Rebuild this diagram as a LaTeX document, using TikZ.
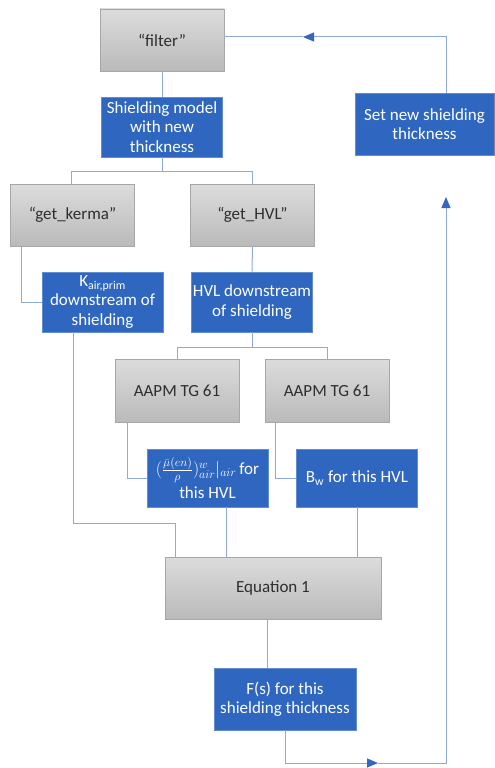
\documentclass[tikz,border=0pt]{standalone}
\usepackage{fontspec}
\setmainfont{Carlito}
\usetikzlibrary{arrows.meta}

\definecolor{boxblue}{HTML}{2E66C0}
\definecolor{linkblue}{HTML}{8EA9DB}
\definecolor{tipblue}{HTML}{3566C2}
\definecolor{greytop}{HTML}{DCDCDC}
\definecolor{greybot}{HTML}{BABABA}
\definecolor{greytext}{HTML}{2E2E2E}

\tikzset{
  greybox/.style={rectangle, top color=greytop, bottom color=greybot, draw=greybot!90!black,
    line width=0.4pt, minimum width=124pt, minimum height=62pt, inner sep=0pt,
    text=greytext, font=\fontsize{17}{19.5}\selectfont},
  bluebox/.style={rectangle, fill=boxblue, draw=boxblue!75!white, line width=0.6pt,
    minimum width=121pt, minimum height=60pt, inner sep=1pt, align=center,
    text=white, font=\fontsize{17}{19.5}\selectfont},
  link/.style={draw=linkblue, line width=1pt},
  tip/.style={-{Triangle[length=11pt,width=9pt,color=tipblue]}}
}

\begin{document}
\begin{tikzpicture}[x=1pt,y=-1pt]
  \useasboundingbox (0,0) rectangle (495,768);

  \node[greybox] (filter) at (162,40){“filter”};
  \node[bluebox] (shield) at (162,127){Shielding model\\with new\\thickness};
  \node[bluebox, minimum width=139pt, minimum height=62pt] (setnew) at (424.5,124){Set new shielding\\thickness};

  \node[greybox] (kerma) at (72.5,215){“get\_kerma”};
  \node[greybox] (gethvl) at (252.5,215){“get\_HVL”};

  \node[bluebox] (kair) at (102.5,302){K\textsubscript{air,prim}\\downstream of\\shielding};
  \node[bluebox] (hvldown) at (252,302){HVL downstream\\of shielding};

  \node[greybox, minimum height=63pt] (tgA) at (177,390.5){AAPM TG 61};
  \node[greybox, minimum height=63pt] (tgB) at (327,390.5){AAPM TG 61};

  \node[bluebox, minimum height=58pt] (mufrac) at (207.5,478){$(\frac{\bar{\mu}(en)}{\rho})^{w}_{air}|_{air}$\,for\\[3pt]this HVL};
  \node[bluebox, minimum height=58pt] (bw) at (357,478){B\textsubscript{w} for this HVL};

  \node[greybox, minimum width=216pt] (eqn) at (273,588){Equation 1};
  \node[bluebox, minimum width=142pt, minimum height=62pt] (fs) at (285,699){F(s) for this\\shielding thickness};

  \coordinate (lefttip) at (303,37);
  \coordinate (midtip) at (378,763);
  \coordinate (uptip) at (446,197);

  % tree part
  \draw[link] (filter.south) -- (shield.north);
  \draw[link] (shield.south) -- ++(0,14) -| ([xshift=-1.5pt]kerma.north);
  \draw[link] (shield.south) -- ++(0,14) -| (gethvl.north);
  \draw[link] ([xshift=11pt]kerma.south west) |- (kair.west);
  \draw[link] (gethvl.south) -- (hvldown.north);
  \draw[link] (hvldown.south) -- ++(0,15) -| (tgA.north);
  \draw[link] (hvldown.south) -- ++(0,15) -| (tgB.north);
  \draw[link] ([xshift=13pt]tgA.south west) |- (mufrac.west);
  \draw[link] ([xshift=11pt]tgB.south west) |- (bw.west);

  % into equation 1
  \draw[link] ([xshift=32pt]kair.south west) |- ([xshift=11pt,yshift=33pt]eqn.north west) -- ([xshift=11pt]eqn.north west);
  \draw[link] ([xshift=18.5pt]mufrac.south) coordinate (m) -- (m |- eqn.north);
  \draw[link] (bw.south) -- (bw.south |- eqn.north);
  \draw[link] ([xshift=-6pt]eqn.south) coordinate (e) -- (e |- fs.north);

  % loop back
  \draw[link, tip] (fs.south) |- (midtip);
  \draw[link, tip] (midtip) -| (uptip);
  \draw[link, tip] ([xshift=21.5pt]setnew.north) |- (lefttip);
  \draw[link] (lefttip) -- (lefttip -| filter.east);
\end{tikzpicture}
\end{document}
